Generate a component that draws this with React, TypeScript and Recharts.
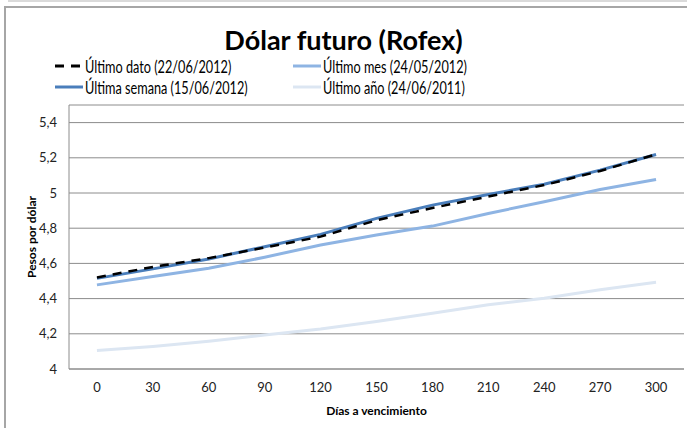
import { LineChart, Line, XAxis, YAxis, CartesianGrid } from "recharts";

const DAYS = [0, 30, 60, 90, 120, 150, 180, 210, 240, 270, 300];
const Y_TICKS = [4, 4.2, 4.4, 4.6, 4.8, 5, 5.2, 5.4];

const ULTIMO_DATO = [4.52, 4.58, 4.63, 4.69, 4.752, 4.845, 4.915, 4.98, 5.045, 5.125, 5.22];
const ULTIMA_SEMANA = [4.515, 4.569, 4.625, 4.695, 4.765, 4.856, 4.931, 4.992, 5.05, 5.13, 5.219];
const ULTIMO_MES = [4.478, 4.525, 4.572, 4.635, 4.705, 4.761, 4.812, 4.884, 4.95, 5.02, 5.077];
const ULTIMO_ANIO = [4.105, 4.128, 4.157, 4.193, 4.227, 4.27, 4.317, 4.365, 4.402, 4.45, 4.493];

const DATO_COLOR = "#000000";
const SEMANA_COLOR = "#4a7ebb";
const MES_COLOR = "#8eb4e3";
const ANIO_COLOR = "#dce6f2";

const FONT = "Lato, 'Open Sans', sans-serif";

const data = DAYS.map((d, i) => ({
  dias: d,
  dato: ULTIMO_DATO[i],
  semana: ULTIMA_SEMANA[i],
  mes: ULTIMO_MES[i],
  anio: ULTIMO_ANIO[i],
}));

const legendItems = [
  { label: "Último dato (22/06/2012)", color: DATO_COLOR, dashed: true, left: 55, top: 56 },
  { label: "Último mes (24/05/2012)", color: MES_COLOR, dashed: false, left: 293, top: 56 },
  { label: "Última semana (15/06/2012)", color: SEMANA_COLOR, dashed: false, left: 55, top: 77 },
  { label: "Último año (24/06/2011)", color: ANIO_COLOR, dashed: false, left: 293, top: 77 },
];

function YTitle({ viewBox }: any) {
  const cx = viewBox.x + 31;
  const cy = viewBox.y + viewBox.height / 2;
  return (
    <text
      x={cx}
      y={cy}
      transform={`rotate(-90, ${cx}, ${cy})`}
      textAnchor="middle"
      dominantBaseline="central"
      fontFamily={FONT}
      fontSize={12}
      fontWeight="bold"
      fill="#000"
    >
      Pesos por dólar
    </text>
  );
}

export default function App() {
  return (
    <div
      style={{
        position: "fixed",
        left: 0,
        top: 0,
        width: 687,
        height: 428,
        background: "#fff",
        overflow: "hidden",
        fontFamily: FONT,
      }}
    >
      {/* window chrome: grey band and chart frame */}
      <div style={{ position: "absolute", left: 8, top: 0, width: 679, height: 2, background: "#dadada" }} />
      <div
        style={{
          position: "absolute",
          left: 4,
          top: 6,
          width: 700,
          height: 440,
          borderLeft: "2px solid #a6a6a6",
          borderTop: "2px solid #a6a6a6",
        }}
      />

      <div
        style={{
          position: "absolute",
          left: 0,
          top: 22,
          width: 687,
          textAlign: "center",
          fontSize: 27,
          fontWeight: "bold",
          lineHeight: "36px",
          color: "#000",
        }}
      >
        Dólar futuro (Rofex)
      </div>

      {legendItems.map((it) => (
        <div
          key={it.label}
          style={{
            position: "absolute",
            left: it.left,
            top: it.top,
            height: 20,
            display: "flex",
            alignItems: "center",
            fontSize: 18,
            color: "#000",
            whiteSpace: "nowrap",
          }}
        >
          <svg width={28} height={6} style={{ marginRight: 2 }}>
            <line
              x1={0}
              y1={3}
              x2={28}
              y2={3}
              stroke={it.color}
              strokeWidth={3}
              strokeDasharray={it.dashed ? "9 7" : undefined}
            />
          </svg>
          <span style={{ display: "inline-block", transform: "scaleX(0.705)", transformOrigin: "left center" }}>
            {it.label}
          </span>
        </div>
      ))}

      <div style={{ position: "absolute", left: 0, top: 0 }}>
        <LineChart
          width={687}
          height={428}
          data={data}
          margin={{ top: 105, right: 3, bottom: 0, left: 0 }}
        >
          <CartesianGrid vertical={false} stroke="#8c8c8c" />
          <XAxis
            dataKey="dias"
            type="number"
            domain={[-15, 315]}
            ticks={DAYS}
            height={59}
            axisLine={{ stroke: "#8c8c8c" }}
            tickLine={false}
            tickSize={6}
            tickMargin={8}
            tick={{ fill: "#222", fontSize: 13, fontFamily: FONT }}
            label={{
              value: "Días a vencimiento",
              position: "insideBottom",
              offset: 13,
              fill: "#000",
              fontSize: 12,
              fontWeight: "bold",
              fontFamily: FONT,
            }}
          />
          <YAxis
            type="number"
            domain={[4, 5.5]}
            ticks={Y_TICKS}
            width={69}
            axisLine={{ stroke: "#8c8c8c" }}
            tickLine={false}
            tickSize={6}
            tickMargin={6}
            tick={{ fill: "#222", fontSize: 13, fontFamily: FONT }}
            tickFormatter={(v: number) => String(Number(v.toFixed(1))).replace(".", ",")}
            label={<YTitle />}
          />
          <Line
            type="linear"
            dataKey="anio"
            stroke={ANIO_COLOR}
            strokeWidth={3}
            dot={false}
            isAnimationActive={false}
          />
          <Line
            type="linear"
            dataKey="mes"
            stroke={MES_COLOR}
            strokeWidth={3}
            dot={false}
            isAnimationActive={false}
          />
          <Line
            type="linear"
            dataKey="semana"
            stroke={SEMANA_COLOR}
            strokeWidth={3}
            dot={false}
            isAnimationActive={false}
          />
          <Line
            type="linear"
            dataKey="dato"
            stroke={DATO_COLOR}
            strokeWidth={2.5}
            strokeDasharray="9 7"
            dot={false}
            isAnimationActive={false}
          />
        </LineChart>
      </div>
    </div>
  );
}
